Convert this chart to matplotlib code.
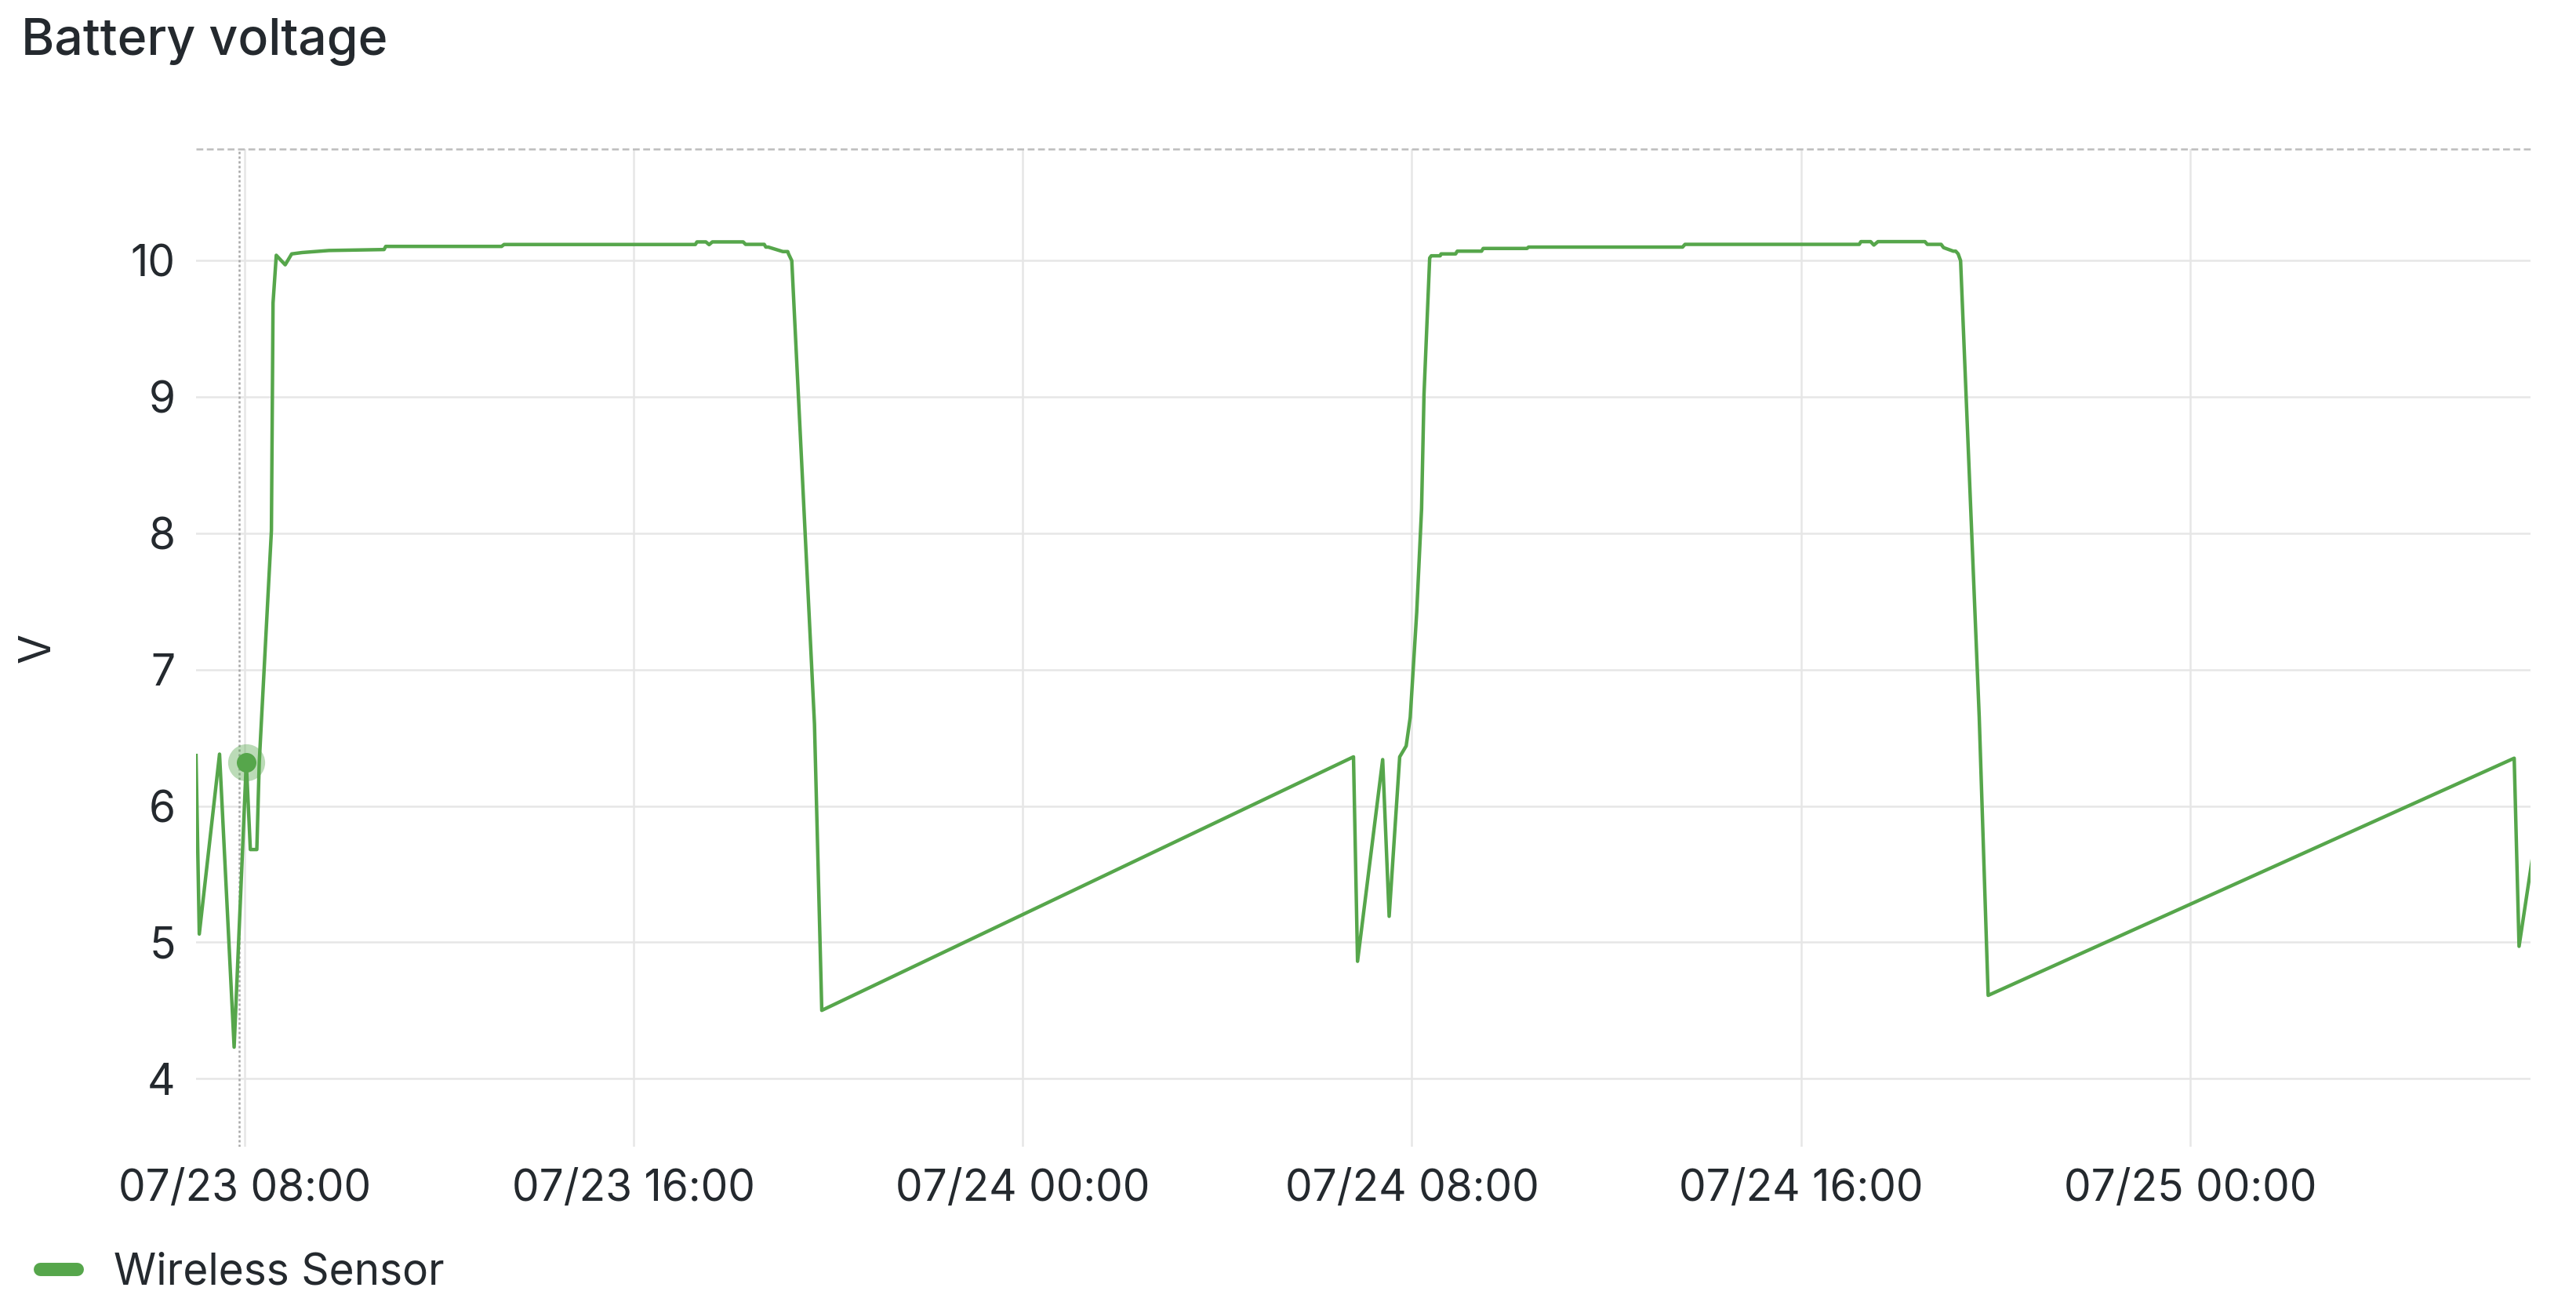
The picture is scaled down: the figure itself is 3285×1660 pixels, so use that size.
" battery voltage panel "
import matplotlib
matplotlib.use("Agg")
import matplotlib.pyplot as plt
import matplotlib.dates as mdates
from matplotlib.lines import Line2D
import pandas as pd

plt.rcParams["font.family"] = ["Inter", "DejaVu Sans"]

TITLE = "Battery voltage"
SERIES = "Wireless Sensor"
UNIT = "V"

# readings, month-day hour:minute
stamps = [
    "07-23 07:00", "07-23 07:04", "07-23 07:29", "07-23 07:47", "07-23 08:02",
    "07-23 08:07", "07-23 08:15", "07-23 08:18", "07-23 08:33", "07-23 08:35",
    "07-23 08:39", "07-23 08:50", "07-23 08:58", "07-23 09:11", "07-23 09:44",
    "07-23 10:52", "07-23 10:54", "07-23 13:17", "07-23 13:20", "07-23 17:16",
    "07-23 17:18", "07-23 17:29", "07-23 17:33", "07-23 17:37", "07-23 18:15",
    "07-23 18:18", "07-23 18:41", "07-23 18:43", "07-23 18:46", "07-23 19:04",
    "07-23 19:10", "07-23 19:11", "07-23 19:15", "07-23 19:43", "07-23 19:52",
    "07-24 06:48", "07-24 06:53", "07-24 07:24", "07-24 07:32", "07-24 07:45",
    "07-24 07:53", "07-24 07:58", "07-24 08:06", "07-24 08:12", "07-24 08:15",
    "07-24 08:22", "07-24 08:24", "07-24 08:35", "07-24 08:36", "07-24 08:54",
    "07-24 08:56", "07-24 09:26", "07-24 09:28", "07-24 10:22", "07-24 10:24",
    "07-24 13:34", "07-24 13:37", "07-24 17:12", "07-24 17:14", "07-24 17:26",
    "07-24 17:30", "07-24 17:35", "07-24 18:33", "07-24 18:36", "07-24 18:53",
    "07-24 18:56", "07-24 19:08", "07-24 19:11", "07-24 19:14", "07-24 19:17",
    "07-24 19:40", "07-24 19:51", "07-25 06:40", "07-25 06:46", "07-25 07:03",
]
volts = [
    6.37, 5.06, 6.38, 4.23, 6.32,
    5.68, 5.68, 6.32, 8.02, 9.69,
    10.04, 9.97, 10.05, 10.06, 10.075,
    10.082, 10.105, 10.105, 10.119, 10.119,
    10.138, 10.138, 10.118, 10.138, 10.138,
    10.12, 10.12, 10.10, 10.10, 10.067,
    10.067, 10.05, 10.0, 6.6, 4.5,
    6.36, 4.86, 6.34, 5.19, 6.36,
    6.44, 6.65, 7.42, 8.18, 9.02,
    10.02, 10.036, 10.036, 10.05, 10.05,
    10.07, 10.07, 10.09, 10.09, 10.10,
    10.10, 10.12, 10.12, 10.14, 10.14,
    10.115, 10.14, 10.14, 10.12, 10.12,
    10.096, 10.07, 10.07, 10.05, 10.0,
    6.65, 4.61, 6.35, 4.97, 5.64,
]
hover_idx = 4            # point under the cursor
cursor_at = "07-23 07:53"
view = ("07-23 07:00", "07-25 07:00")
ylim = (3.5, 10.82)
yticks = [4, 5, 6, 7, 8, 9, 10]

GREEN = "#56a64b"
TEXT = "#24292e"
GRID = "#e6e6e6"
FS = 19.8

t = pd.to_datetime(["2024-" + s for s in stamps])

fig = plt.figure(figsize=(16.425, 8.3), dpi=200)
ax = fig.add_axes([0.0761, 0.1193, 0.9062, 0.7663])

ax.plot(t, volts, color=GREEN, lw=1.6, zorder=5)
ax.plot(t[hover_idx], volts[hover_idx], "o", color=GREEN, ms=17, alpha=0.4,
        mec="none", zorder=6)
ax.plot(t[hover_idx], volts[hover_idx], "o", color=GREEN, ms=9, mec="none",
        zorder=7)
ax.axvline(pd.Timestamp("2024-" + cursor_at), color="#a8a8a8", lw=0.9,
           ls=(0, (1.2, 1.2)), zorder=4)
ax.axhline(ylim[1], color="#bdbdbd", lw=0.9, ls=(0, (3.5, 1.8)), zorder=4,
           clip_on=False)

ax.set_xlim(pd.Timestamp("2024-" + view[0]), pd.Timestamp("2024-" + view[1]))
ax.set_ylim(*ylim)
ax.set_yticks(yticks)
ax.xaxis.set_major_locator(mdates.HourLocator(byhour=[0, 8, 16]))
ax.xaxis.set_major_formatter(mdates.DateFormatter("%m/%d %H:%M"))
ax.grid(True, color=GRID, lw=0.9)
ax.set_axisbelow(True)
for s in ax.spines.values():
    s.set_visible(False)
ax.tick_params(length=0, labelsize=FS, labelcolor=TEXT)
ax.tick_params(axis="y", pad=9.5)
ax.tick_params(axis="x", pad=10)
ax.set_ylabel(UNIT, fontsize=FS, color=TEXT, labelpad=33)

fig.text(27 / 3285, 1 - 70 / 1660, TITLE, fontsize=23.2, color=TEXT,
         weight="medium", va="baseline", ha="left")

handle = Line2D([], [], color=GREEN, lw=6.1, solid_capstyle="round")
fig.legend([handle], [SERIES], loc="center left",
           bbox_to_anchor=(51.5 / 3285, 1 - 1622 / 1660), frameon=False,
           fontsize=FS, labelcolor=TEXT, handlelength=0.85,
           handletextpad=0.85, borderpad=0, borderaxespad=0)

fig.savefig("out.png", dpi=200)
